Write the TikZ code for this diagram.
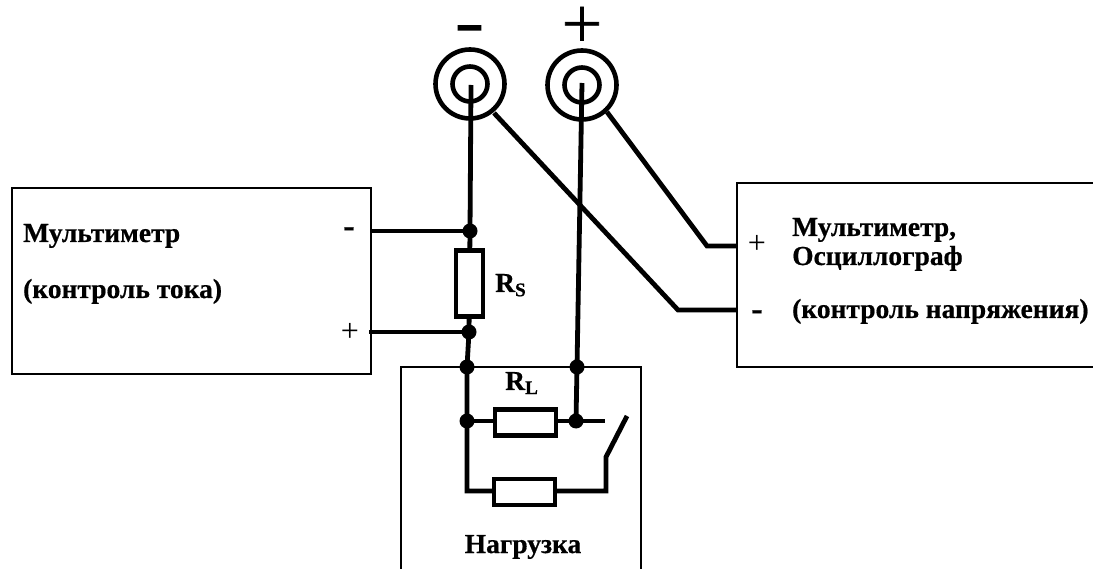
\documentclass[tikz,border=0pt]{standalone}
\usepackage{fontspec}
\setmainfont{Liberation Serif}[BoldFeatures={FakeBold=0.6}]
\newfontfamily\plusfont[FakeBold=1.5]{Noto Sans CJK SC}
\newfontfamily\dashfont[FakeBold=18]{Liberation Sans Bold}
\tikzset{
  wire/.style={line width=4.8pt,line join=miter,black},
  housing/.style={draw=black,line width=2pt,fill=none,rectangle,inner sep=0pt,minimum width=#1},
  resistor/.style={draw=black,line width=4.4pt,fill=white,rectangle,inner sep=0pt},
  junction/.style={circle,fill=black,inner sep=0pt,minimum size=15pt},
  ring/.style={circle,draw=black,line width=4.6pt,inner sep=0pt,fill=none},
  label/.style={font=\fontsize{27.5pt}{28pt}\selectfont\bfseries,inner sep=0pt,anchor=base west},
  smallsign/.style={font=\fontsize{32pt}{32pt}\selectfont,inner sep=0pt,anchor=center},
  boldsign/.style={font=\fontsize{34pt}{34pt}\selectfont\bfseries,inner sep=0pt,anchor=center},
}
\begin{document}
\begin{tikzpicture}[x=1pt,y=-1pt]
\useasboundingbox (0,0) rectangle (1093,569);
% housings
\node[housing=359pt,minimum height=186pt] (mA) at (191.5,281) {};
\node[housing=380pt,minimum height=184pt] (mV) at (927,275) {};
\node[housing=240pt,minimum height=220pt] (load) at (521,477) {};
% terminals
\node[ring,minimum size=69pt] (negO) at (470,84) {};
\node[ring,minimum size=35pt] (negI) at (470,84) {};
\node[ring,minimum size=69pt] (posO) at (582,85) {};
\node[ring,minimum size=35pt] (posI) at (582,85) {};
\coordinate (negC) at (471,85);
\coordinate (posC) at (582,83);
\coordinate (negTap) at (494,113);
\coordinate (posTap) at (607,112);
% junctions
\node[junction] (j1) at (470,231) {};
\node[junction] (j2) at (469,332) {};
\node[junction] (j3) at (467,367) {};
\node[junction] (j4) at (467,421) {};
\node[junction] (j5) at (577,367) {};
\node[junction] (j6) at (576,421) {};
% free points
\coordinate (aNeg) at (371,231);
\coordinate (aPos) at (369,332);
\coordinate (vPosK) at (707,246);
\coordinate (vPos) at (737,246);
\coordinate (vNegK) at (678,310);
\coordinate (vNeg) at (737,310);
\coordinate (swA) at (605,421);
\coordinate (swB) at (606,457);
\coordinate (swC) at (627,416);
\coordinate (low1) at (467,491);
\coordinate (low2) at (606,491);
% wires
\draw[wire] (negC) -- (j1.center) -- (j2.center) -- (j3.center) -- (j4.center);
\draw[wire] (posC) -- (j5.center) -- (j6.center);
\draw[wire] (aNeg) -- (j1.center);
\draw[wire] (aPos) -- (j2.center);
\draw[wire] (negTap) -- (vNegK) -- (vNeg);
\draw[wire] (posTap) -- (vPosK) -- (vPos);
\draw[wire] (j4.center) -- (j6.center) -- (swA);
\draw[wire] (j4.center) -- (low1) -- (low2) -- (swB) -- (swC);
% resistors
\node[resistor,minimum width=27pt,minimum height=66pt] (rs) at (469.5,283.5) {};
\node[resistor,minimum width=61pt,minimum height=26pt] (rl) at (525.5,422.5) {};
\node[resistor,minimum width=61pt,minimum height=26pt] (rp) at (524.5,492) {};
% text
\node[label] (t1) at (23,242) {Мультиметр};
\node[label] (t2) at (23,298) {(контроль тока)};
\node[label] (t3) at (792,236) {Мультиметр,};
\node[label] (t4) at (792,265) {Осциллограф};
\node[label] (t5) at (792,318) {(контроль напряжения)};
\node[label,anchor=base] (t6) at (523,553) {Нагрузка};
\node[label,anchor=base west] (rsl) at (495,292) {R\textsubscript{S}};
\node[label,anchor=base west] (rll) at (505,390) {R\textsubscript{L}};
\node[smallsign] (s1) at (350,332) {+};
\node[boldsign] (s2) at (349,232) {-};
\node[smallsign] (s3) at (757,244) {+};
\node[boldsign] (s4) at (757,315) {-};
\node[font=\plusfont\fontsize{46pt}{46pt}\selectfont,inner sep=0pt] (pp) at (582,24) {＋};
\node[font=\dashfont\fontsize{20pt}{20pt}\selectfont,inner sep=0pt] (mm) at (469.5,30) {—};
\end{tikzpicture}
\end{document}
